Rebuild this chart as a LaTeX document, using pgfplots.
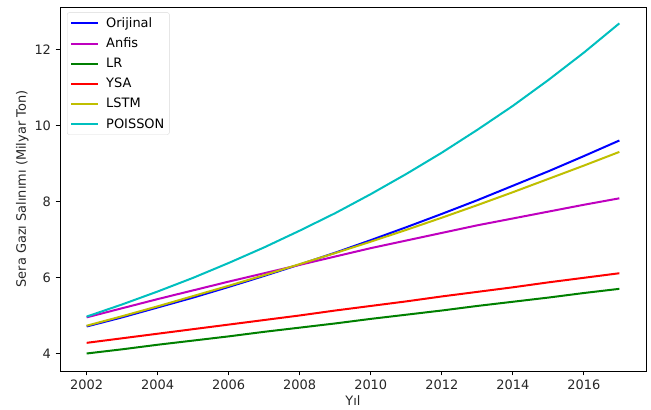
\documentclass[border=0pt]{standalone}
\usepackage{fontspec}
\setmainfont{DejaVu Sans}
\usepackage{pgfplots}
\pgfplotsset{compat=1.18}
\usepackage{pgfplotstable}
\definecolor{cB}{rgb}{0,0,1}
\definecolor{cM}{rgb}{0.75,0,0.75}
\definecolor{cG}{rgb}{0,0.5,0}
\definecolor{cR}{rgb}{1,0,0}
\definecolor{cY}{rgb}{0.75,0.75,0}
\definecolor{cC}{rgb}{0,0.75,0.75}
\pgfplotstableread{
yil orijinal anfis lr ysa lstm poisson
2002 4.72 4.96 4.01 4.29 4.74 4.98
2003 4.96 5.20 4.12 4.41 4.99 5.30
2004 5.22 5.44 4.24 4.53 5.25 5.64
2005 5.48 5.67 4.35 4.65 5.52 6.00
2006 5.76 5.90 4.46 4.77 5.79 6.39
2007 6.05 6.12 4.58 4.89 6.07 6.80
2008 6.35 6.34 4.69 5.01 6.36 7.24
2009 6.66 6.56 4.80 5.14 6.65 7.70
2010 6.99 6.78 4.92 5.26 6.95 8.20
2011 7.33 6.98 5.03 5.38 7.26 8.73
2012 7.68 7.18 5.14 5.51 7.58 9.29
2013 8.04 7.38 5.26 5.63 7.91 9.89
2014 8.42 7.56 5.37 5.75 8.25 10.52
2015 8.80 7.74 5.48 5.88 8.60 11.20
2016 9.20 7.92 5.60 6.00 8.95 11.92
2017 9.61 8.09 5.71 6.12 9.31 12.69
}\datatable
\begin{document}
\begin{tikzpicture}
\begin{axis}[
  scale only axis,
  width=586bp, height=364bp,
  xmin=2001.25, xmax=2017.75,
  ymin=3.55, ymax=13.12,
  xtick={2002,2004,...,2016},
  ytick={4,6,8,10,12},
  tick align=outside,
  xtick pos=left, ytick pos=left,
  major tick length=4.5bp,
  tick style={black, line width=0.8bp},
  axis line style={black, line width=0.8bp},
  /pgf/number format/1000 sep={},
  /pgf/number format/assume math mode=true,
  xticklabel style={font=\fontsize{13}{15}\selectfont, color=black!85, yshift=-1bp},
  yticklabel style={font=\fontsize{13}{15}\selectfont, color=black!85, xshift=-1bp},
  xlabel style={font=\fontsize{13}{15}\selectfont, color=black!85, yshift=1bp},
  ylabel style={font=\fontsize{13}{15}\selectfont, color=black!85, yshift=-1bp},
  xlabel={Yıl},
  ylabel={Sera Gazı Salınımı (Milyar Ton)},
  legend cell align=left,
  legend style={font=\fontsize{13}{15}\selectfont, draw=black!15, rounded corners=2bp, fill=white, fill opacity=0.8, text opacity=1, inner xsep=3bp, inner ysep=3bp, at={(0.012,0.985)}, anchor=north west, row sep=5bp, column sep=5bp},
  legend image code/.code={\draw[#1, line width=2bp] (0bp,0bp) -- (27bp,0bp);},
]
\addplot[cB, line width=2bp] table[x=yil,y=orijinal]{\datatable};
\addlegendentry{Orijinal}
\addplot[cM, line width=2bp] table[x=yil,y=anfis]{\datatable};
\addlegendentry{Anfis}
\addplot[cG, line width=2bp] table[x=yil,y=lr]{\datatable};
\addlegendentry{LR}
\addplot[cR, line width=2bp] table[x=yil,y=ysa]{\datatable};
\addlegendentry{YSA}
\addplot[cY, line width=2bp] table[x=yil,y=lstm]{\datatable};
\addlegendentry{LSTM}
\addplot[cC, line width=2bp] table[x=yil,y=poisson]{\datatable};
\addlegendentry{POISSON}
\end{axis}
\pgfresetboundingbox
\path (current axis.south west) ++(-60bp,-39bp) coordinate (bl);
\path (current axis.north east) ++(5bp,7bp) coordinate (tr);
\path (bl) rectangle (tr);
\end{tikzpicture}
\end{document}
